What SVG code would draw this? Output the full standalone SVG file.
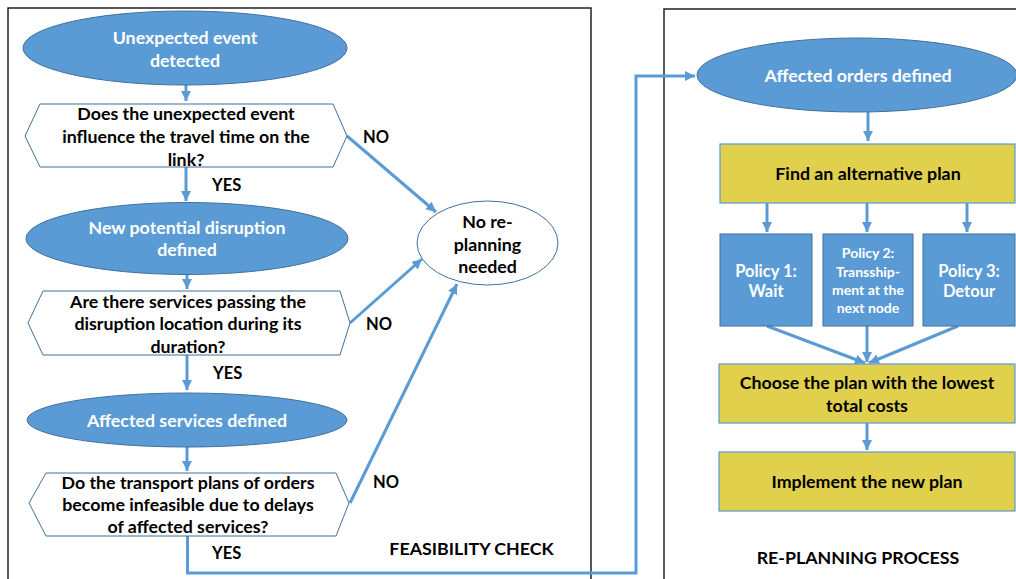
<svg xmlns="http://www.w3.org/2000/svg" width="1016" height="579" viewBox="0 0 1016 579">
<style>
.t{font-family:Lato,"Liberation Sans",sans-serif;font-weight:bold;font-size:17.8px;fill:#000;text-anchor:middle}
.w{fill:#fff}
.s{font-size:14px}
.m{font-size:16.5px}
.n{font-size:16.5px}
.l{text-anchor:start}
.ell{fill:#5B9BD5;stroke:#41719C;stroke-width:1}
.hex{fill:#fff;stroke:#41719C;stroke-width:1}
.yb{fill:#E0D04C;stroke:#5B9BD5;stroke-width:1.2}
.bb{fill:#5B9BD5;stroke:#41719C;stroke-width:1}
.c{fill:none;stroke:#5B9BD5;stroke-width:3}
.frame{fill:none;stroke:#222;stroke-width:1.5}
</style>
<defs>
<marker id="ah" markerUnits="userSpaceOnUse" markerWidth="12" markerHeight="12" refX="10" refY="5" orient="auto">
<path d="M0,0 L10,5 L0,10 z" fill="#5B9BD5"/>
</marker>
</defs>
<rect width="1016" height="579" fill="#fff"/>
<rect class="frame" x="8" y="8" width="583" height="600"/>
<rect class="frame" x="664" y="9" width="400" height="600"/>

<g id="connectors">
<path class="c" d="M186,85 V101" marker-end="url(#ah)"/>
<path class="c" d="M186,167 V201" marker-end="url(#ah)"/>
<path class="c" d="M187,274 V289" marker-end="url(#ah)"/>
<path class="c" d="M187,355 V390" marker-end="url(#ah)"/>
<path class="c" d="M187,447 V471" marker-end="url(#ah)"/>
<path class="c" d="M347,136 L436,212" marker-end="url(#ah)"/>
<path class="c" d="M350,323 L422,259" marker-end="url(#ah)"/>
<path class="c" d="M350,503 L457,284" marker-end="url(#ah)"/>
<path class="c" d="M187.5,536 V573 H636 V76 H695" marker-end="url(#ah)"/>
<path class="c" d="M868,112 V141" marker-end="url(#ah)"/>
<path class="c" d="M767,203 V232" marker-end="url(#ah)"/>
<path class="c" d="M867,203 V232" marker-end="url(#ah)"/>
<path class="c" d="M967,203 V232" marker-end="url(#ah)"/>
<path class="c" d="M767,326 L865,363" marker-end="url(#ah)"/>
<path class="c" d="M867,326 V362" marker-end="url(#ah)"/>
<path class="c" d="M958,326 L869,363" marker-end="url(#ah)"/>
<path class="c" d="M867,423 V450" marker-end="url(#ah)"/>
</g>

<g id="n-unexpected">
<ellipse class="ell" cx="185" cy="48" rx="162" ry="37"/>
<text class="t w" x="185" y="44">Unexpected event</text>
<text class="t w" x="185" y="67">detected</text>
</g>

<g id="n-q1">
<polygon class="hex" points="25,136 40,104 333,104 347,136 333,167 40,167"/>
<text class="t" x="186" y="120">Does the unexpected event</text>
<text class="t" x="186" y="143">influence the travel time on the</text>
<text class="t" x="186" y="166">link?</text>
</g>

<g id="n-newdisruption">
<ellipse class="ell" cx="187" cy="238.5" rx="161" ry="36"/>
<text class="t w" x="187" y="234">New potential disruption</text>
<text class="t w" x="187" y="256">defined</text>
</g>

<g id="n-q2">
<polygon class="hex" points="28,323 43,291 340,291 350,323 340,355 43,355"/>
<text class="t" x="188" y="308">Are there services passing the</text>
<text class="t" x="188" y="330">disruption location during its</text>
<text class="t" x="188" y="353">duration?</text>
</g>

<g id="n-affservices">
<ellipse class="ell" cx="187" cy="420" rx="160" ry="27"/>
<text class="t w" x="187" y="427">Affected services defined</text>
</g>

<g id="n-q3">
<polygon class="hex" points="29,503 46,473 336,473 349,503 336,536 46,536"/>
<text class="t" x="188" y="489">Do the transport plans of orders</text>
<text class="t" x="188" y="511">become infeasible due to delays</text>
<text class="t" x="188" y="533">of affected services?</text>
</g>

<g id="n-noreplan">
<ellipse cx="487.5" cy="243" rx="70.5" ry="42" fill="#fff" stroke="#41719C" stroke-width="1"/>
<text class="t" x="487.5" y="228">No re-</text>
<text class="t" x="487.5" y="251">planning</text>
<text class="t" x="487.5" y="273">needed</text>
</g>

<g id="labels">
<text class="t l n" x="363" y="143">NO</text>
<text class="t l n" x="212" y="191">YES</text>
<text class="t l n" x="366" y="330">NO</text>
<text class="t l n" x="213" y="379">YES</text>
<text class="t l n" x="373" y="488">NO</text>
<text class="t l n" x="212" y="559">YES</text>
<text class="t" x="471.5" y="555">FEASIBILITY CHECK</text>
<text class="t" x="858" y="564">RE-PLANNING PROCESS</text>
</g>

<g id="n-afforders">
<ellipse class="ell" cx="857" cy="75" rx="160" ry="37"/>
<text class="t w" x="858" y="82">Affected orders defined</text>
</g>

<g id="n-find">
<rect class="yb" x="720" y="144" width="295" height="59"/>
<text class="t" x="868" y="180">Find an alternative plan</text>
</g>

<g id="n-p1">
<rect class="bb" x="720" y="234" width="92" height="92"/>
<text class="t w m" x="766" y="277">Policy 1:</text>
<text class="t w m" x="766" y="297">Wait</text>
</g>

<g id="n-p2">
<rect class="bb" x="823" y="234" width="90" height="92"/>
<text class="t w s" x="868" y="258">Policy 2:</text>
<text class="t w s" x="868" y="277">Transship-</text>
<text class="t w s" x="868" y="295">ment at the</text>
<text class="t w s" x="868" y="313">next node</text>
</g>

<g id="n-p3">
<rect class="bb" x="923" y="234" width="92" height="92"/>
<text class="t w m" x="969" y="277">Policy 3:</text>
<text class="t w m" x="969" y="297">Detour</text>
</g>

<g id="n-choose">
<rect class="yb" x="719" y="364" width="296" height="59"/>
<text class="t" x="867" y="389">Choose the plan with the lowest</text>
<text class="t" x="867" y="412">total costs</text>
</g>

<g id="n-implement">
<rect class="yb" x="719" y="452" width="296" height="59"/>
<text class="t" x="867" y="488">Implement the new plan</text>
</g>
</svg>
